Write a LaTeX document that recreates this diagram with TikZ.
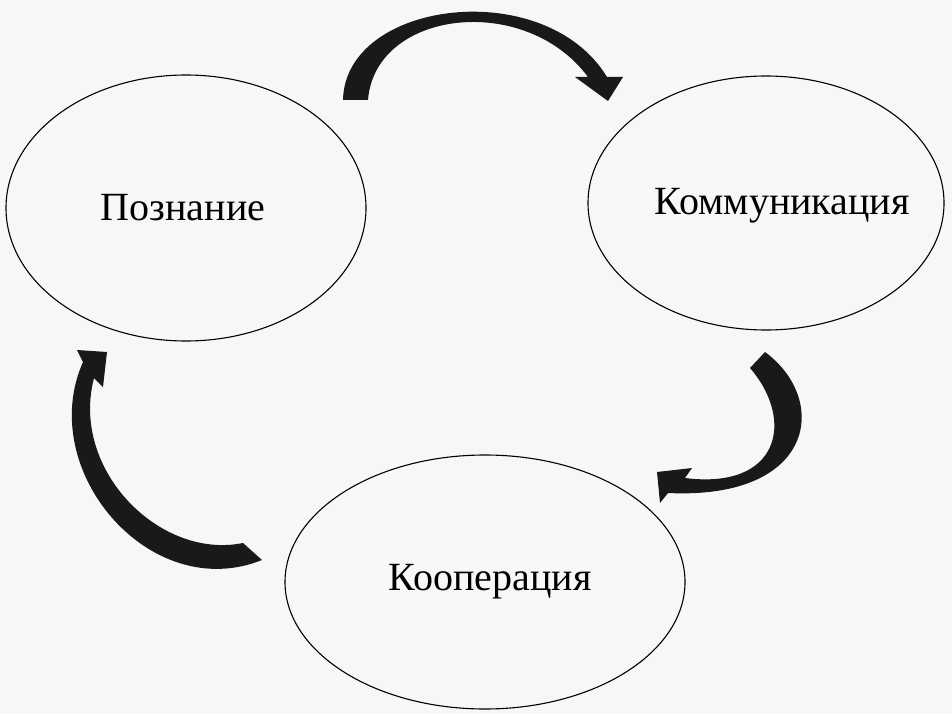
\documentclass[tikz,border=0pt]{standalone}
\usepackage{fontspec}
\setmainfont{Liberation Serif}
\begin{document}
\begin{tikzpicture}[x=1pt,y=-1pt,
  lbl/.style={font=\fontsize{40}{46}\selectfont},
  bigarrow/.style={fill=black!90,draw=none}]
\fill[white!97!black] (0,0) rectangle (952,714);
\useasboundingbox (0,0) rectangle (952,714);
\draw[line width=1.1pt] (186,208) ellipse [x radius=180, y radius=133];
\draw[line width=1.1pt] (766,203) ellipse [x radius=178, y radius=127];
\draw[line width=1.1pt] (485,582) ellipse [x radius=200, y radius=127];
\node[lbl] (p) at (183,208) {Познание};
\node[lbl] (k) at (782,206) {Коммуникация};
\node[lbl] (c) at (490,582) {Кооперация};
% top arrow
\fill[bigarrow] (343,100) .. controls (345,0) and (545,-25) .. (607,77)
  -- (623,77) -- (608,101) -- (575,77) -- (588,77)
  .. controls (525,-8) and (375,10) .. (368,100) -- cycle;
% right arrow
\fill[bigarrow] (765,352) .. controls (830,400) and (815,500) .. (668,493)
  -- (660,503) -- (657,472) -- (692,468) -- (685,478)
  .. controls (780,490) and (795,420) .. (750,368) -- cycle;
% left arrow
\fill[bigarrow] (262,560) .. controls (150,605) and (35,470) .. (83,362)
  -- (77,350) -- (107,352) -- (103,387) -- (94,378)
  .. controls (70,470) and (160,560) .. (243,543) -- cycle;
\end{tikzpicture}
\end{document}
